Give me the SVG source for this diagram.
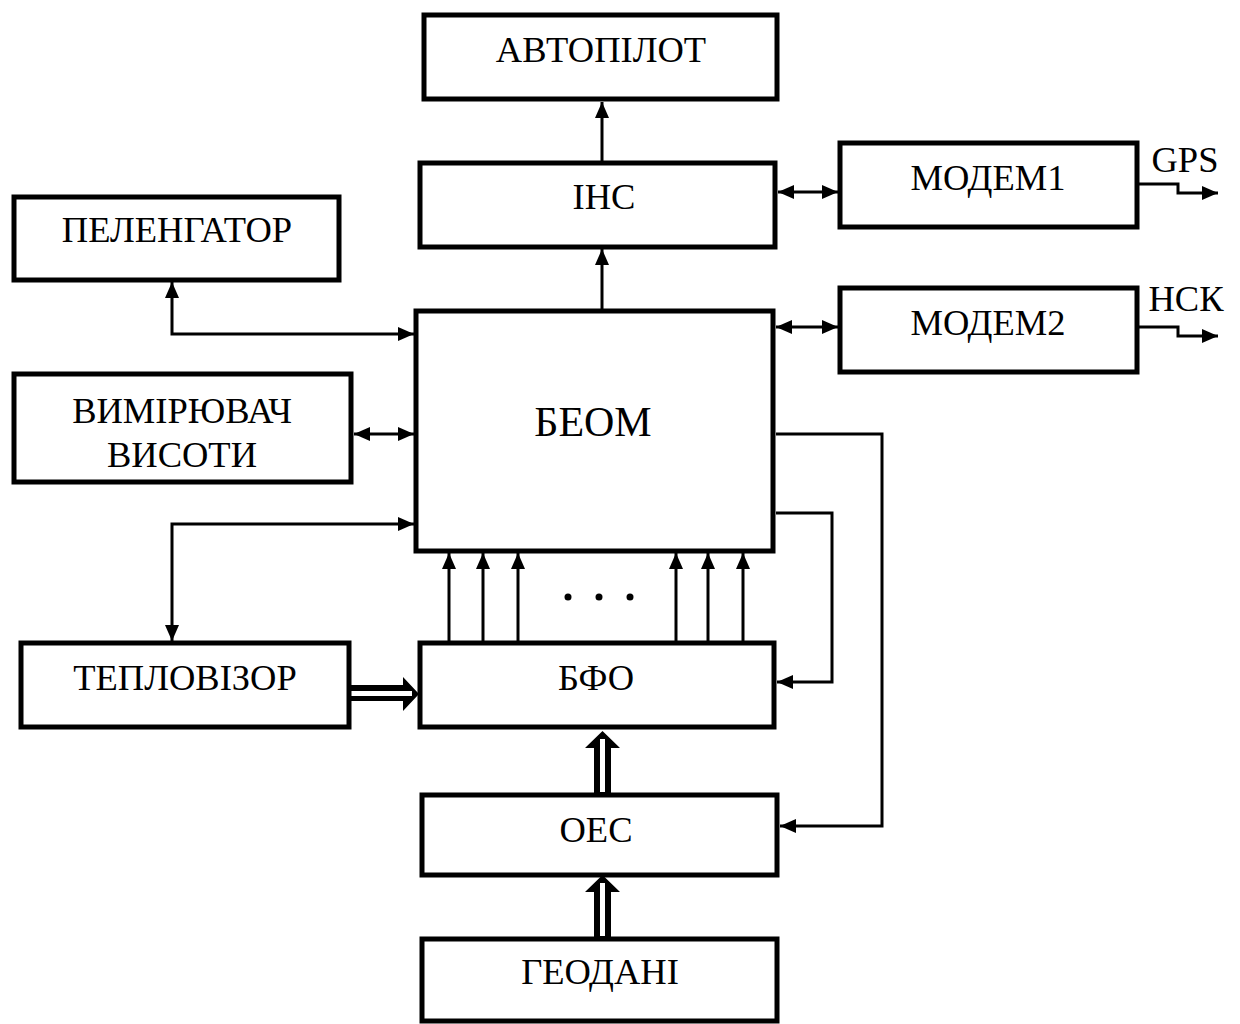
<svg xmlns="http://www.w3.org/2000/svg" width="1240" height="1024" viewBox="0 0 1240 1024">
<style>
.box{fill:#fff;stroke:#000;stroke-width:5}
.lbl{font-family:"Liberation Serif","Times New Roman",serif;font-size:36.5px;fill:#000;text-anchor:middle}
.big{font-size:42px}
.ln{fill:none;stroke:#000;stroke-width:3}
.a{marker-end:url(#ah)}
.b{marker-start:url(#ah);marker-end:url(#ah)}
</style>
<defs>
<marker id="ah" viewBox="0 0 16 14" refX="16" refY="7" markerWidth="16" markerHeight="14" markerUnits="userSpaceOnUse" orient="auto-start-reverse">
<path d="M0,0 L16,7 L0,14 z" fill="#000"/>
</marker>
</defs>
<rect width="1240" height="1024" fill="#fff"/>
<g id="connectors">
<path class="ln a" d="M602,163 V102"/>
<path class="ln a" d="M602,309 V249"/>
<path class="ln b" d="M778,192 H838"/>
<path class="ln b" d="M776,327 H838"/>
<path class="ln a" d="M1139,184 H1178 V193 H1218"/>
<path class="ln a" d="M1139,327 H1178 V336 H1218"/>
<path class="ln b" d="M172,282 V334 H414"/>
<path class="ln b" d="M354,434 H414"/>
<path class="ln b" d="M414,524 H172 V641"/>
<path class="ln a" d="M449,641 V553"/>
<path class="ln a" d="M483,641 V553"/>
<path class="ln a" d="M518,641 V553"/>
<path class="ln a" d="M676,641 V553"/>
<path class="ln a" d="M708,641 V553"/>
<path class="ln a" d="M743,641 V553"/>
<path class="ln a" d="M776,513 H832 V682 H777"/>
<path class="ln a" d="M776,434 H882 V826 H780"/>
<g id="dots" fill="#000">
<circle cx="568" cy="597" r="3.5"/>
<circle cx="599" cy="597" r="3.5"/>
<circle cx="630" cy="597" r="3.5"/>
</g>
<g id="hollow1">
<path d="M351,685 H403 V677 L419,694 L403,711 V701 H351 z" fill="#000"/>
<rect x="351" y="691" width="61" height="5" fill="#fff"/>
</g>
<g id="hollow2">
<path d="M594,794 V748 H585 L602.5,731 L620,748 H611 V794 z" fill="#000"/>
<rect x="600" y="739" width="5" height="53" fill="#fff"/>
</g>
<g id="hollow3">
<path d="M594,938 V892 H585 L602.5,875 L620,892 H611 V938 z" fill="#000"/>
<rect x="600" y="883" width="5" height="53" fill="#fff"/>
</g>
</g>
<g id="avtopilot"><rect class="box" x="424" y="15" width="353" height="84"/><text class="lbl" x="601" y="62">АВТОПІЛОТ</text></g>
<g id="ins"><rect class="box" x="420" y="163" width="355" height="84"/><text class="lbl" x="604" y="209">ІНС</text></g>
<g id="modem1"><rect class="box" x="840" y="143" width="297" height="84"/><text class="lbl" x="988" y="190">МОДЕМ1</text></g>
<g id="modem2"><rect class="box" x="840" y="288" width="297" height="84"/><text class="lbl" x="988" y="335">МОДЕМ2</text></g>
<g id="pelengator"><rect class="box" x="14" y="197" width="325" height="83"/><text class="lbl" x="177" y="242">ПЕЛЕНГАТОР</text></g>
<g id="beom"><rect class="box" x="416" y="311" width="357" height="240"/><text class="lbl big" x="593" y="436">БЕОМ</text></g>
<g id="vymiriuvach"><rect class="box" x="14" y="374" width="337" height="108"/><text class="lbl" x="182" y="423">ВИМІРЮВАЧ</text><text class="lbl" x="182" y="467">ВИСОТИ</text></g>
<g id="teplovizor"><rect class="box" x="21" y="643" width="328" height="84"/><text class="lbl" x="185" y="690">ТЕПЛОВІЗОР</text></g>
<g id="bfo"><rect class="box" x="420" y="643" width="354" height="84"/><text class="lbl" x="596" y="690">БФО</text></g>
<g id="oes"><rect class="box" x="422" y="795" width="355" height="80"/><text class="lbl" x="596" y="842">ОЕС</text></g>
<g id="geodani"><rect class="box" x="422" y="939" width="355" height="82"/><text class="lbl" x="600" y="984">ГЕОДАНІ</text></g>
<g id="gps"><text class="lbl" x="1185" y="172">GPS</text></g>
<g id="nsk"><text class="lbl" x="1186" y="311">НСК</text></g>
</svg>
